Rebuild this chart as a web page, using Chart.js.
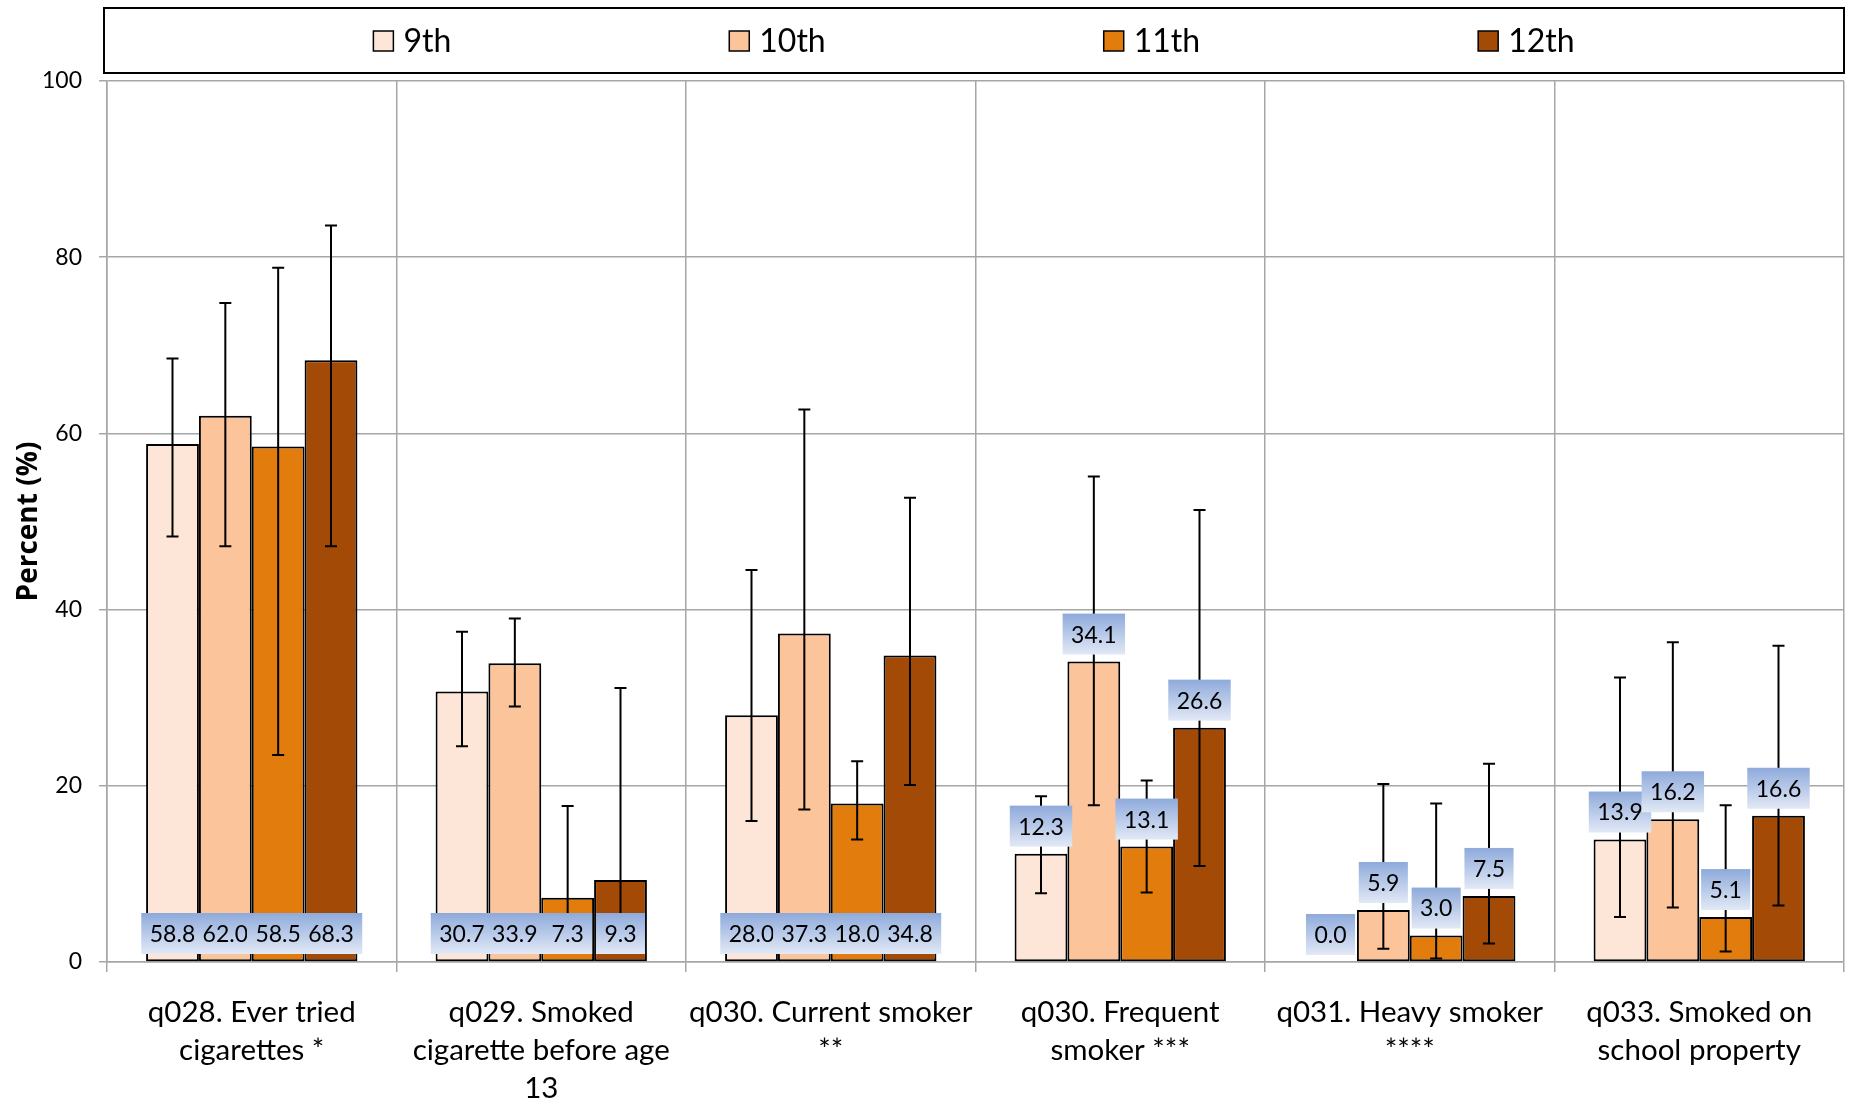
<!DOCTYPE html>
<html><head><meta charset="utf-8">
<script src="https://cdn.jsdelivr.net/npm/chart.js@4/dist/chart.umd.min.js"></script>
<style>html,body{margin:0;padding:0;background:#fff}#wrap{width:1851px;height:1105px;position:relative}</style>
</head><body><div id="wrap"><canvas id="c" width="1851" height="1105"></canvas></div>
<script>
const categories = [
  ["q028. Ever tried", "cigarettes *"],
  ["q029. Smoked", "cigarette before age", "13"],
  ["q030. Current smoker", "**"],
  ["q030. Frequent", "smoker ***"],
  ["q031. Heavy smoker", "****"],
  ["q033. Smoked on", "school property"]
];
const seriesNames = ["9th", "10th", "11th", "12th"];
const seriesColors = ["#fde5d8", "#fbc49a", "#e27c0c", "#a34a07"];

const grade9  = [58.8, 30.7, 28.0, 12.3, 0.0, 13.9];
const grade10 = [62.0, 33.9, 37.3, 34.1, 5.9, 16.2];
const grade11 = [58.5, 7.3, 18.0, 13.1, 3.0, 5.1];
const grade12 = [68.3, 9.3, 34.8, 26.6, 7.5, 16.6];

const grade9Low   = [48.3, 24.5, 16.0, 7.8, 0.0, 5.1];
const grade9High  = [68.5, 37.5, 44.5, 18.8, 0.0, 32.3];
const grade10Low  = [47.2, 29.0, 17.3, 17.8, 1.5, 6.2];
const grade10High = [74.8, 39.0, 62.7, 55.1, 20.2, 36.3];
const grade11Low  = [23.5, 2.5, 13.9, 7.9, 0.4, 1.2];
const grade11High = [78.8, 17.7, 22.8, 20.6, 18.0, 17.8];
const grade12Low  = [47.2, 2.0, 20.1, 10.9, 2.1, 6.4];
const grade12High = [83.6, 31.1, 52.7, 51.3, 22.5, 35.9];

const yTicks = [0, 20, 40, 60, 80, 100];
const labelAtBase = [true, true, true, false, false, false];

const seriesValues = [grade9, grade10, grade11, grade12];
const seriesLow = [grade9Low, grade10Low, grade11Low, grade12Low];
const seriesHigh = [grade9High, grade10High, grade11High, grade12High];

const FONT = "Lato, 'Open Sans', sans-serif";
const GRID = "#a6a6a6";

const errorBarPlugin = {
  id: "errorBars",
  afterDatasetsDraw(chart) {
    const ctx = chart.ctx, y = chart.scales.y;
    ctx.save();
    ctx.strokeStyle = "#000";
    ctx.lineWidth = 2;
    chart.data.datasets.forEach((ds, di) => {
      const meta = chart.getDatasetMeta(di);
      meta.data.forEach((el, i) => {
        const lo = seriesLow[di][i], hi = seriesHigh[di][i];
        if (hi === lo) return;
        const x = el.x, yl = y.getPixelForValue(lo), yh = y.getPixelForValue(hi);
        ctx.beginPath();
        ctx.moveTo(x, yl); ctx.lineTo(x, yh);
        ctx.moveTo(x - 6, yl); ctx.lineTo(x + 6, yl);
        ctx.moveTo(x - 6, yh); ctx.lineTo(x + 6, yh);
        ctx.stroke();
      });
    });
    ctx.restore();
  }
};

const valueLabelPlugin = {
  id: "valueLabels",
  afterDatasetsDraw(chart) {
    const ctx = chart.ctx, y = chart.scales.y;
    ctx.save();
    ctx.font = "23px " + FONT;
    ctx.textAlign = "center";
    ctx.textBaseline = "middle";
    chart.data.datasets.forEach((ds, di) => {
      const meta = chart.getDatasetMeta(di);
      meta.data.forEach((el, i) => {
        const txt = ds.data[i].toFixed(1);
        const tw = ctx.measureText(txt).width;
        const w = tw + 17, h = 41;
        const bottom = labelAtBase[i] ? y.getPixelForValue(0) - 8 : el.y - 7;
        const top = bottom - h, left = el.x - w / 2;
        const g = ctx.createLinearGradient(0, top, 0, bottom);
        g.addColorStop(0, "#8eaadb");
        g.addColorStop(1, "#e2e9f6");
        ctx.fillStyle = g;
        ctx.fillRect(left, top, w, h);
        ctx.fillStyle = "#000";
        ctx.fillText(txt, el.x, top + h / 2 + 1);
      });
    });
    ctx.restore();
  }
};

const legendPlugin = {
  id: "boxLegend",
  afterDraw(chart) {
    const ctx = chart.ctx, ca = chart.chartArea;
    ctx.save();
    ctx.strokeStyle = "#000";
    ctx.lineWidth = 2;
    const bl = ca.left - 3, br = ca.right, bt = 8, bb = 73;
    ctx.strokeRect(bl, bt, br - bl, bb - bt);
    ctx.font = "32px " + FONT;
    ctx.textBaseline = "middle";
    ctx.textAlign = "left";
    const gap = 278, box = 20, boxGap = 10;
    const items = chart.data.datasets.map(ds => ({ label: ds.label, color: ds.backgroundColor, w: box + boxGap + ctx.measureText(ds.label).width }));
    const total = items.reduce((s, it) => s + it.w, 0) + gap * (items.length - 1);
    let x = (bl + br) / 2 - total / 2;
    const cy = 41;
    items.forEach(it => {
      ctx.fillStyle = it.color;
      ctx.fillRect(x, cy - box / 2, box, box);
      ctx.lineWidth = 1.5;
      ctx.strokeRect(x, cy - box / 2, box, box);
      ctx.fillStyle = "#000";
      ctx.fillText(it.label, x + box + boxGap, cy + 1);
      x += it.w + gap;
    });
    ctx.restore();
  }
};

new Chart(document.getElementById("c"), {
  type: "bar",
  data: {
    labels: categories,
    datasets: seriesNames.map((n, k) => ({
      label: n,
      data: seriesValues[k],
      backgroundColor: seriesColors[k],
      borderColor: "#000",
      borderWidth: 2,
      borderSkipped: false,
      barPercentage: 1.0,
      categoryPercentage: 0.73
    }))
  },
  options: {
    responsive: false,
    animation: false,
    devicePixelRatio: 1,
    layout: { padding: { top: 81, right: 7, left: 0, bottom: 0 } },
    plugins: { legend: { display: false }, tooltip: { enabled: false } },
    scales: {
      x: {
        offset: true,
        grid: { offset: true, color: GRID, lineWidth: 1.5, tickLength: 10 },
        border: { color: GRID, width: 1.5 },
        ticks: { color: "#000", font: { family: FONT, size: 29.5, lineHeight: 1.3 }, padding: 21, maxRotation: 0, autoSkip: false },
        afterFit: s => { s.height = 143; }
      },
      y: {
        min: 0, max: 100,
        afterBuildTicks: s => { s.ticks = yTicks.map(v => ({ value: v })); },
        grid: { color: GRID, lineWidth: 1.5, tickLength: 8 },
        border: { color: GRID, width: 1.5 },
        ticks: { color: "#000", font: { family: FONT, size: 23 }, padding: 17 },
        title: { display: true, text: "Percent (%)", color: "#000", font: { family: "'Open Sans', Lato, sans-serif", size: 28, weight: "bold" }, padding: { top: 12, bottom: 0 } },
        afterFit: s => { s.width = 107; }
      }
    }
  },
  plugins: [errorBarPlugin, valueLabelPlugin, legendPlugin]
});
</script>
</body></html>
